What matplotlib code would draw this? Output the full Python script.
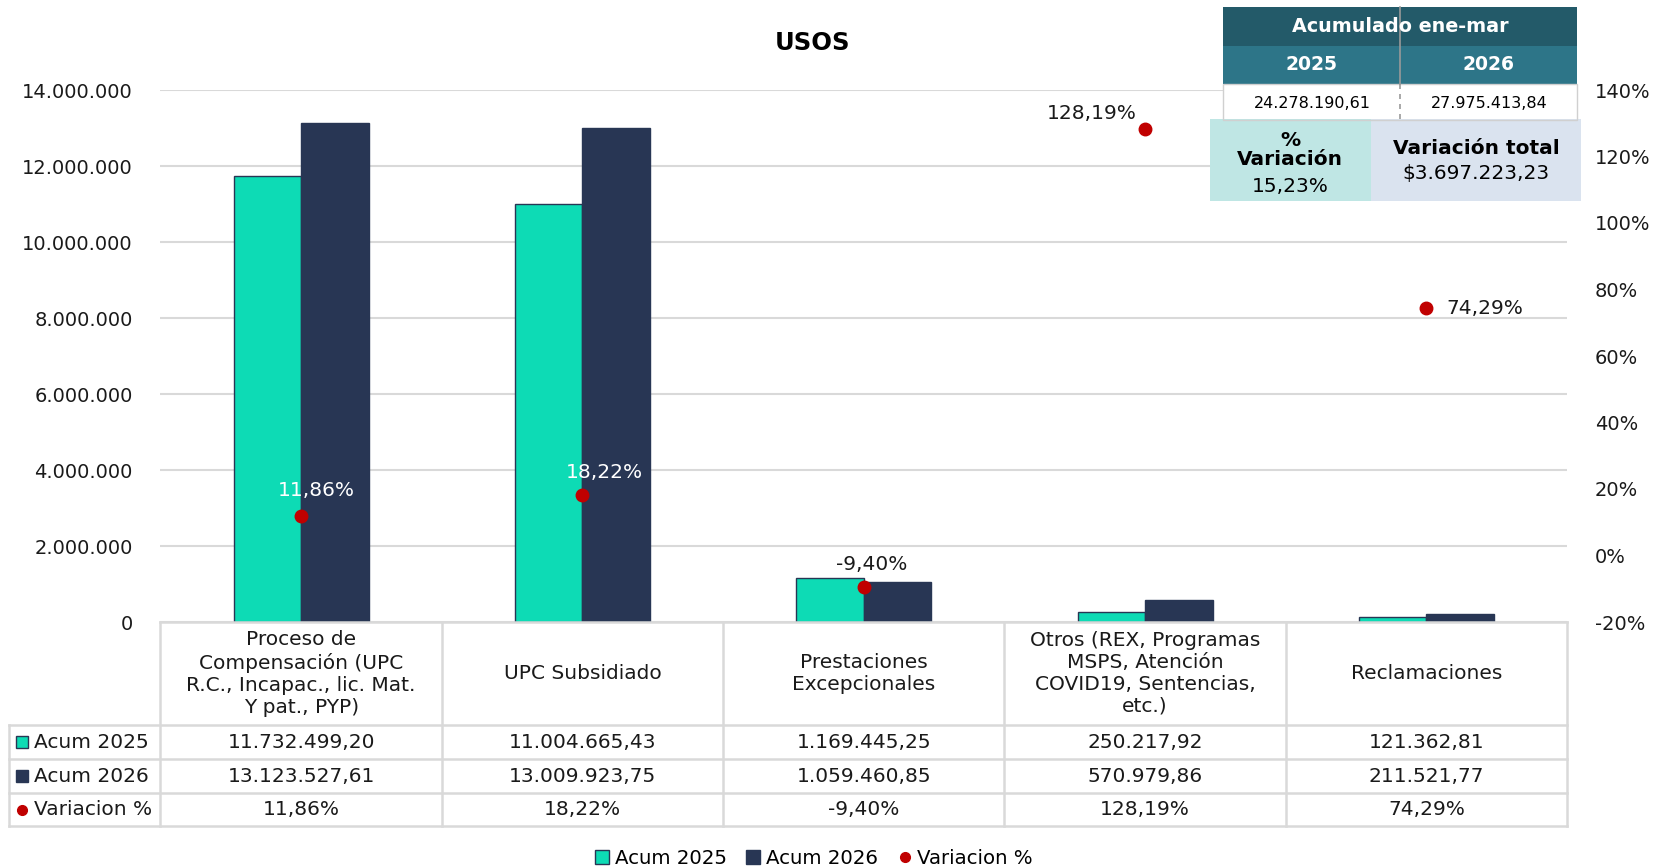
import matplotlib
matplotlib.use("Agg")
import matplotlib.pyplot as plt
import numpy as np
from matplotlib.patches import Rectangle, Patch
from matplotlib.lines import Line2D
from matplotlib.ticker import FuncFormatter, MultipleLocator
import matplotlib.transforms as mtransforms

plt.rcParams['font.family'] = ['DejaVu Sans']

# Data
categories = [
    "Proceso de\nCompensación (UPC\nR.C., Incapac., lic. Mat.\nY pat., PYP)",
    "UPC Subsidiado",
    "Prestaciones\nExcepcionales",
    "Otros (REX, Programas\nMSPS, Atención\nCOVID19, Sentencias,\netc.)",
    "Reclamaciones",
]
acum_2025 = [11732499.20, 11004665.43, 1169445.25, 250217.92, 121362.81]
acum_2026 = [13123527.61, 13009923.75, 1059460.85, 570979.86, 211521.77]
variacion = [11.86, 18.22, -9.40, 128.19, 74.29]
series_names = ["Acum 2025", "Acum 2026", "Variacion %"]

# label placement for the % points (offset in pixels, ha, colour)
lbl_pos = [((15, 26), 'center', 'white'), ((22, 22), 'center', 'white'),
           ((8, 22), 'center', '#1a1a1a'), ((-8, 16), 'right', '#1a1a1a'),
           ((20, 0), 'left', '#1a1a1a')]

teal = '#0DDBB5'
navy = '#283654'
red = '#C00000'
grid_c = '#D9D9D9'
FS = 14.5

W, H = 1656, 868
fig = plt.figure(figsize=(W / 100, H / 100), dpi=100)


def fx(px):
    return px / W


def fy(py):
    return 1 - py / H


ax_left, ax_right, ax_top, ax_bot = 160.5, 1567, 90, 622
ax = fig.add_axes([fx(ax_left), fy(ax_bot), fx(ax_right - ax_left), (ax_bot - ax_top) / H])
ax2 = ax.twinx()

x = np.arange(len(categories))
bw = 0.24
ax.bar(x - bw / 2, acum_2025, bw, color=teal, edgecolor=navy, linewidth=1, zorder=3)
ax.bar(x + bw / 2, acum_2026, bw, color=navy, edgecolor=navy, linewidth=1, zorder=3)
ax.set_xlim(-0.5, len(categories) - 0.5)
ax.set_ylim(0, 14000000)
ax.yaxis.set_major_locator(MultipleLocator(2000000))
ax.yaxis.set_major_formatter(FuncFormatter(lambda v, p: f"{int(v):,}".replace(',', '.')))
ax.grid(axis='y', color=grid_c, linewidth=1.5, zorder=0)
ax.set_xticks([])
ax.tick_params(axis='y', length=0, pad=20, labelsize=14, labelcolor='#1a1a1a')
for s in ax.spines.values():
    s.set_visible(False)

ax2.plot(x, variacion, 'o', color=red, markersize=9, zorder=5)
ax2.set_ylim(-20, 140)
ax2.yaxis.set_major_locator(MultipleLocator(20))
ax2.yaxis.set_major_formatter(FuncFormatter(lambda v, p: f"{v:.0f}%"))
ax2.tick_params(axis='y', length=0, pad=20, labelsize=14, labelcolor='#1a1a1a')
for s in ax2.spines.values():
    s.set_visible(False)
for xi, v, (off, ha, c) in zip(x, variacion, lbl_pos):
    ax2.annotate(f"{v:.2f}%".replace('.', ','), (xi, v), xytext=off, textcoords='offset pixels',
                 ha=ha, va='center', fontsize=FS, color=c, zorder=6)

fig.text(fx(813), fy(43), "USOS", ha='center', va='center', fontsize=17.5, fontweight='bold')


def fmt(v):
    return f"{v:,.2f}".replace(',', 'X').replace('.', ',').replace('X', '.')


# data table under the plot
tr = mtransforms.blended_transform_factory(ax.transData, fig.transFigure)
rows_y = [622, 725, 759, 793, 826]
xl, xr = -0.5, len(categories) - 0.5
line_kw = dict(color=grid_c, linewidth=1.8, zorder=1)
fig.add_artist(Line2D([xl, xr], [fy(622)] * 2, transform=tr, **line_kw))
for yy in rows_y[1:]:
    fig.add_artist(Line2D([fx(8.5), fx(ax_right)], [fy(yy)] * 2, transform=fig.transFigure, **line_kw))
fig.add_artist(Line2D([fx(8.5)] * 2, [fy(725), fy(826)], transform=fig.transFigure, **line_kw))
for k in range(len(categories) + 1):
    fig.add_artist(Line2D([xl + k] * 2, [fy(622), fy(826)], transform=tr, **line_kw))

for xi, cat in zip(x, categories):
    fig.text(xi, fy(673.5), cat, transform=tr, ha='center', va='center',
             fontsize=FS, linespacing=1.2, color='#1a1a1a')
row_vals = [[fmt(v) for v in acum_2025], [fmt(v) for v in acum_2026],
            [f"{v:.2f}%".replace('.', ',') for v in variacion]]
for r, vals in enumerate(row_vals):
    yc = fy((rows_y[r + 1] + rows_y[r + 2]) / 2)
    for xi, t in zip(x, vals):
        fig.text(xi, yc, t, transform=tr, ha='center', va='center', fontsize=FS, color='#1a1a1a')
    fig.text(fx(34), yc, series_names[r], ha='left', va='center', fontsize=FS, color='#1a1a1a')

# legend keys inside table
for r, yy in enumerate([742, 776]):
    c = teal if r == 0 else navy
    fig.add_artist(Rectangle((fx(16), fy(yy + 6)), fx(12), 12 / H, transform=fig.transFigure,
                             facecolor=c, edgecolor=navy, linewidth=1))
fig.add_artist(Line2D([fx(22)], [fy(809.5)], marker='o', color=red, markersize=7,
                      transform=fig.transFigure))

# bottom legend
handles = [Patch(facecolor=teal, edgecolor=navy), Patch(facecolor=navy, edgecolor=navy),
           Line2D([], [], marker='o', color=red, linestyle='none', markersize=7)]
fig.legend(handles, series_names, loc='center', bbox_to_anchor=(fx(814), fy(858)), ncol=3,
           frameon=False, fontsize=14.2, handlelength=0.7, handleheight=0.7, handletextpad=0.3,
           columnspacing=1.0)

# summary box at top right
total_2025 = sum(acum_2025)
total_2026 = sum(acum_2026)
diff = total_2026 - total_2025
pct = diff / total_2025 * 100


def box(x0, y0, x1, y1, c, z=10):
    fig.add_artist(Rectangle((fx(x0), fy(y1)), fx(x1 - x0), (y1 - y0) / H, transform=fig.transFigure,
                             facecolor=c, edgecolor='none', zorder=z))


box(1223, 7, 1577, 46, '#235A69')
box(1223, 46, 1577, 84, '#2D7588')
box(1223, 84, 1577, 120, 'white')
fig.add_artist(Rectangle((fx(1223), fy(120)), fx(354), 36 / H, transform=fig.transFigure,
                         facecolor='none', edgecolor='#D0D0D0', linewidth=1, zorder=11))
fig.add_artist(Line2D([fx(1400)] * 2, [fy(7), fy(84)], color='#9A9A9A', linewidth=1.2,
                      transform=fig.transFigure, zorder=12))
fig.add_artist(Line2D([fx(1400)] * 2, [fy(84), fy(120)], color='#9A9A9A', linewidth=1.2,
                      linestyle=(0, (3, 3)), transform=fig.transFigure, zorder=12))
fig.text(fx(1400), fy(27), "Acumulado ene-mar", ha='center', va='center', fontsize=13.8,
         fontweight='bold', color='white', zorder=13)
fig.text(fx(1312), fy(65), "2025", ha='center', va='center', fontsize=13.5, fontweight='bold',
         color='white', zorder=13)
fig.text(fx(1489), fy(65), "2026", ha='center', va='center', fontsize=13.5, fontweight='bold',
         color='white', zorder=13)
fig.text(fx(1312), fy(103), fmt(total_2025), ha='center', va='center', fontsize=11.5, zorder=13)
fig.text(fx(1489), fy(103), fmt(total_2026), ha='center', va='center', fontsize=11.5, zorder=13)

box(1210, 119, 1371, 201, '#BFE6E4')
box(1371, 119, 1581, 201, '#DAE3EF')
fig.text(fx(1290), fy(150), "%\nVariación", ha='center', va='center', fontsize=FS,
         fontweight='bold', linespacing=1.05, zorder=13)
fig.text(fx(1290), fy(187), f"{pct:.2f}%".replace('.', ','), ha='center', va='center',
         fontsize=FS, zorder=13)
fig.text(fx(1476), fy(149), "Variación total", ha='center', va='center', fontsize=FS,
         fontweight='bold', zorder=13)
fig.text(fx(1476), fy(173), "$" + fmt(diff), ha='center', va='center', fontsize=FS, zorder=13)

fig.savefig("out.png", dpi=100)
